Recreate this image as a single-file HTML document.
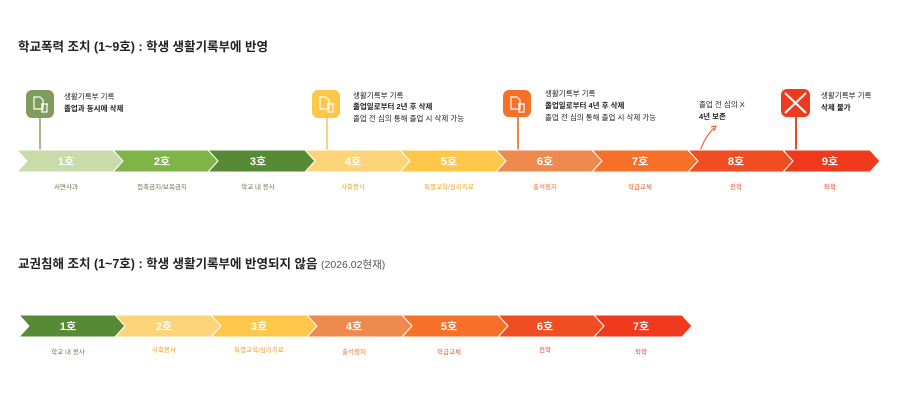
<!DOCTYPE html>
<html><head><meta charset="utf-8"><style>
html,body{margin:0;padding:0;background:#fff;}
svg{display:block;font-family:"Liberation Sans","Noto Sans CJK KR",sans-serif;}
</style></head><body>
<svg width="900" height="400" viewBox="0 0 900 400" xmlns="http://www.w3.org/2000/svg">
<text x="18" y="51" font-size="12.5" font-weight="bold" fill="#222">학교폭력 조치 (1~9호) : 학생 생활기록부에 반영</text>
<text x="18" y="268" font-size="12.5" font-weight="bold" fill="#222">교권침해 조치 (1~7호) : 학생 생활기록부에 반영되지 않음 <tspan font-weight="normal" font-size="10.5" fill="#555">(2026.02현재)</tspan></text>

<line x1="40" y1="117" x2="40" y2="152" stroke="#a7b98a" stroke-width="2"/>
<line x1="327" y1="117" x2="327" y2="152" stroke="#fcd27a" stroke-width="2"/>
<line x1="518" y1="116" x2="518" y2="152" stroke="#ef8a4e" stroke-width="2"/>
<line x1="796" y1="116" x2="796" y2="152" stroke="#ef4a25" stroke-width="2"/>
<path d="M700 152 Q704 138 714 128" fill="none" stroke="#ef4a25" stroke-width="1"/>
<path d="M711 127 L716 126 L714 131" fill="none" stroke="#ef4a25" stroke-width="1"/>

<rect x="26" y="90" width="28" height="28" rx="6" fill="#7f9c5c"/>
<rect x="312" y="90" width="28" height="28" rx="6" fill="#fdc84a"/>
<rect x="503" y="90" width="28" height="27" rx="6" fill="#f7702a"/>
<rect x="781" y="89" width="29" height="28" rx="6" fill="#ee3a1f"/>
<g stroke="#fff" stroke-width="1.2" fill="none">
<path d="M34 97h6l3 3v9h-9z M41 104h7 M42 104v8h5v-8"/>
<path d="M320 97h6l3 3v9h-9z M327 104h7 M328 104v8h5v-8"/>
<path d="M511 97h6l3 3v9h-9z M518 104h7 M519 104v8h5v-8"/>
<path d="M785 93l21 20 M806 93l-21 20" stroke-width="2"/>
</g>

<g font-size="7.5" fill="#222">
<text x="64" y="99">생활기록부 기록</text>
<text x="64" y="111" font-weight="bold">졸업과 동시에 삭제</text>
<text x="353" y="98">생활기록부 기록</text>
<text x="353" y="109" font-weight="bold">졸업일로부터 2년 후 삭제</text>
<text x="353" y="121">졸업 전 심의 통해 졸업 시 삭제 가능</text>
<text x="545" y="96">생활기록부 기록</text>
<text x="545" y="108" font-weight="bold">졸업일로부터 4년 후 삭제</text>
<text x="545" y="120">졸업 전 심의 통해 졸업 시 삭제 가능</text>
<text x="699" y="107">졸업 전 심의 X</text>
<text x="699" y="119" font-weight="bold">4년 보존</text>
<text x="821" y="98">생활기록부 기록</text>
<text x="821" y="110" font-weight="bold">삭제 불가</text>
</g>

<g stroke="#fff" stroke-width="1">
<path d="M17 150h96l10 11-10 11h-96l10-11z" fill="#c8dba9"/>
<path d="M113 150h95l10 11-10 11h-95l10-11z" fill="#7fb548"/>
<path d="M208 150h97l10 11-10 11h-97l10-11z" fill="#578a35"/>
<path d="M305 150h95l10 11-10 11h-95l10-11z" fill="#fdd47a"/>
<path d="M400 150h96l10 11-10 11h-96l10-11z" fill="#fdc84a"/>
<path d="M496 150h96l10 11-10 11h-96l10-11z" fill="#ef8a4e"/>
<path d="M592 150h96l10 11-10 11h-96l10-11z" fill="#f7702a"/>
<path d="M688 150h95l10 11-10 11h-95l10-11z" fill="#f04e22"/>
<path d="M783 150h87l10 11-10 11h-87l10-11z" fill="#ef3a1e"/>
</g>
<g font-size="11" font-weight="bold" fill="#fff" text-anchor="middle">
<text x="66" y="165">1호</text><text x="162" y="165">2호</text><text x="258" y="165">3호</text>
<text x="353" y="165">4호</text><text x="449" y="165">5호</text><text x="545" y="165">6호</text>
<text x="640" y="165">7호</text><text x="736" y="165">8호</text><text x="830" y="165">9호</text>
</g>
<g font-size="6.5" text-anchor="middle">
<text x="66" y="189" fill="#6b7a55">서면사과</text><text x="162" y="189" fill="#6b7a55">접촉금지/보복금지</text><text x="258" y="189" fill="#6b7a55">학교 내 봉사</text>
<text x="353" y="189" fill="#f0a020">사회봉사</text><text x="449" y="189" fill="#f0a020">특별교육/심리치료</text><text x="545" y="189" fill="#e8702a">출석정지</text>
<text x="640" y="189" fill="#e8602a">학급교체</text><text x="736" y="189" fill="#e84a22">전학</text><text x="830" y="189" fill="#e83a1e">퇴학</text>
</g>

<g stroke="#fff" stroke-width="1">
<path d="M19 315h96l10 11-10 11h-96l10-11z" fill="#578a35"/>
<path d="M115 315h96l10 11-10 11h-96l10-11z" fill="#fdd47a"/>
<path d="M211 315h96l10 11-10 11h-96l10-11z" fill="#fdc84a"/>
<path d="M307 315h95l10 11-10 11h-95l10-11z" fill="#ef8a4e"/>
<path d="M402 315h96l10 11-10 11h-96l10-11z" fill="#f7702a"/>
<path d="M498 315h96l10 11-10 11h-96l10-11z" fill="#f04e22"/>
<path d="M594 315h88l10 11-10 11h-88l10-11z" fill="#ef3a1e"/>
</g>
<g font-size="11" font-weight="bold" fill="#fff" text-anchor="middle">
<text x="68" y="330">1호</text><text x="164" y="330">2호</text><text x="259" y="330">3호</text>
<text x="354" y="330">4호</text><text x="449" y="330">5호</text><text x="545" y="330">6호</text><text x="641" y="330">7호</text>
</g>
<g font-size="6.5" text-anchor="middle">
<text x="68" y="354" fill="#6b7a55">학교 내 봉사</text><text x="164" y="352" fill="#f0a020">사회봉사</text><text x="259" y="352" fill="#f0a020">특별교육/심리치료</text>
<text x="354" y="354" fill="#e8702a">출석정지</text><text x="449" y="354" fill="#e8602a">학급교체</text><text x="545" y="352" fill="#e84a22">전학</text><text x="641" y="354" fill="#e83a1e">퇴학</text>
</g>
</svg>
</body></html>
